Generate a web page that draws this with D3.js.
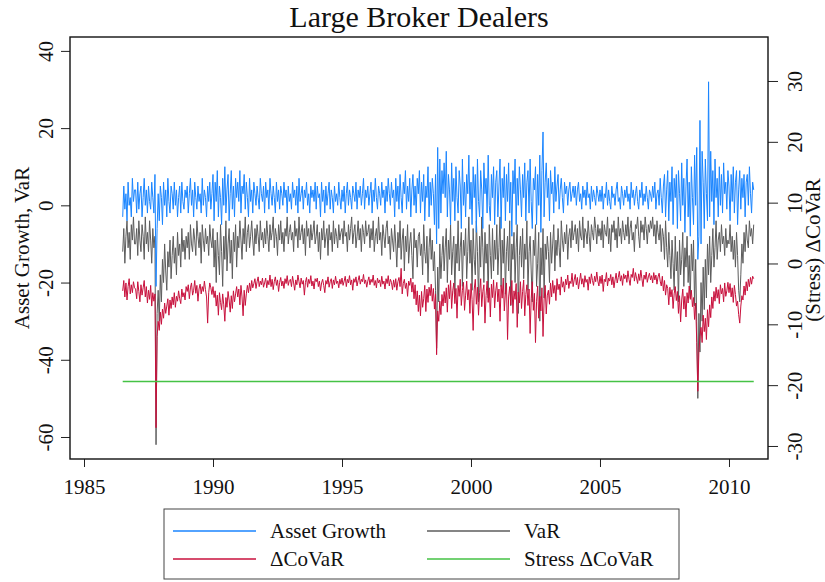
<!DOCTYPE html>
<html>
<head>
<meta charset="utf-8">
<script src="https://cdn.jsdelivr.net/npm/d3@7"></script>
<style>
  body { margin: 0; background: #fff; }
  svg, svg text { font-family: "Liberation Serif", "Times New Roman", serif; }
</style>
</head>
<body>
<svg id="chart" width="825" height="582"></svg>
<script>
// semi-monthly readings, first point mid 1986
const startYear = 1986.5;
const perYear = 24;

const assetGrowth = [
  -3, 5, -1, 3, -4, 6, 0, 2, -3, 7, 1, 4,
  4, -2, 6, -1, 3, 5, -3, 2, 7, 0, 4, -2, 5, 1, -1, 6, 2, -2, 8, -21, -6, 3, -4, 5,
  2, -5, 6, 0, 4, -3, 7, 1, -2, 5, 3, -1, 6, 0, 4, -3, 2, 5, -2, 6, 1, -1, 4, 2,
  5, -2, 3, 7, 0, 4, -3, 6, 2, -1, 5, 1, 3, -2, 7, 0, 4, 2, -3, 5, 1, 6, -1, 3,
  8, -4, 6, 1, 9, -3, 5, 2, -5, 7, 0, 10, -2, 4, 8, -4, 3, 9, -1, 5, -3, 7, 2, 6,
  1, 9, -2, 5, 3, 8, -1, 6, 2, -3, 7, 1, 4, -2, 6, 3, 0, 5, 2, -1, 7, 3, 1, 5,
  -2, 6, 2, 4, -1, 7, 3, 0, 5, 2, -2, 6, 1, 4, -1, 5, 3, 0, 6, 2, 4, -2, 5, 1,
  3, -1, 6, 2, 4, 0, 5, -2, 7, 1, 3, 5, -1, 4, 2, 6, 0, 3, -2, 5, 2, 4, 1, 6,
  -1, 5, 2, 3, -3, 6, 1, 4, -2, 5, 0, 3, 6, -1, 4, 2, -2, 5, 1, 3, 0, 6, 2, -1,
  4, 1, 5, -2, 3, 6, 0, 4, 2, -1, 5, 3, 1, 6, -1, 4, 2, 5, 0, 3, 7, -1, 4, 2,
  5, 0, 3, 6, -2, 4, 1, 7, 2, -1, 5, 3, 0, 6, 2, 4, -2, 5, 1, 7, 3, 0, 6, 2,
  4, -3, 7, 1, 5, -1, 8, 2, -2, 6, 3, 9, -1, 5, 1, 7, -3, 4, 8, 0, 5, -2, 7, 3,
  9, -2, 6, 1, 8, -4, 5, 2, 10, -3, 6, 0, 7, 3, -5, 8, -10, 15, -6, 12, -2, 9, 3, 11,
  2, 14, -3, 8, 4, -5, 11, 1, 7, -4, 10, 2, -2, 9, 5, -6, 12, 0, 6, -3, 8, 3, 13, -1,
  6, -5, 10, 2, 8, -7, 12, 1, -3, 9, 4, -6, 11, 3, 7, -2, 13, 0, -4, 8, 2, 10, -5, 6,
  9, -3, 5, 12, -6, 7, 2, 10, -4, 8, 1, 11, -2, 6, -8, 9, 3, 12, -5, 7, 0, 10, 4, -3,
  8, 2, 11, -4, 6, 9, -2, 12, 1, -6, 7, 4, 10, -5, 8, 0, 13, -7, 9, 19, -3, 6, 11, 2,
  7, -4, 9, 3, 6, -2, 10, 1, 5, 8, -1, 4, 7, 2, -2, 6, 3, 5, 0, 4, 6, 1, 3, 5,
  2, 5, 0, 4, 6, 1, 3, -1, 5, 2, 4, 0, 6, 2, 3, -1, 5, 1, 4, 2, 0, 5, 3, 1,
  4, 1, 5, -1, 3, 2, 6, 0, 4, 1, -1, 5, 2, 3, 0, 4, 6, 1, 2, -1, 5, 3, 0, 4,
  2, 5, 1, 3, -1, 6, 2, 4, 0, 3, 5, 1, -1, 4, 2, 6, 0, 3, 1, 5, 2, -1, 4, 3,
  1, 5, 2, 6, -1, 3, 4, 0, 7, 2, -2, 5, 8, -3, 4, 9, -4, 6, 1, 10, -5, 7, 2, 8,
  -6, 9, 3, -4, 11, 0, 7, -7, 5, 12, -3, 6, -8, 10, 2, -5, 13, 0, 15, -14, -8, 22, -10, 14,
  6, -6, 12, 3, -4, 32, -3, 14, 1, 9, -5, 12, 2, 7, -3, 10, 0, 8, -2, 11, 3, 6, -1, 9,
  5, -4, 8, 1, 10, -2, 6, 9, -5, 4, 9, -1, 7, 2, 8, -3, 6, 8, 0, 10, 3, -2, 6, 4
];

const valueAtRisk = [
  -12, -6, -15, -8, -4, -11, -7, -14, -5, -9, -3, -10,
  -10, -6, -13, -4, -9, -12, -5, -8, -14, -3, -10, -7, -12, -4, -9, -15, -6, -11, -8, -62, -28, -22, -30, -18,
  -25, -14, -20, -10, -17, -22, -12, -16, -9, -19, -13, -8, -15, -11, -18, -7, -13, -10, -16, -6, -12, -9, -14, -8,
  -11, -7, -14, -5, -10, -12, -6, -9, -13, -4, -8, -11, -7, -15, -5, -9, -12, -6, -10, -8, -13, -5, -9, -11,
  -6, -16, -9, -20, -7, -13, -18, -5, -12, -21, -8, -14, -4, -17, -10, -6, -15, -9, -19, -7, -12, -5, -16, -8,
  -11, -4, -9, -14, -6, -10, -3, -12, -7, -5, -11, -8, -4, -9, -13, -6, -10, -5, -8, -12, -4, -9, -7, -11,
  -6, -10, -4, -8, -12, -5, -9, -7, -3, -11, -6, -8, -13, -5, -9, -4, -10, -7, -12, -6, -8, -3, -10, -7,
  -5, -9, -7, -12, -4, -8, -6, -11, -3, -9, -7, -5, -10, -6, -13, -4, -8, -6, -11, -5, -9, -7, -4, -10,
  -8, -5, -12, -7, -14, -6, -9, -4, -11, -8, -6, -13, -5, -9, -7, -12, -4, -10, -6, -8, -11, -5, -9, -7,
  -6, -10, -4, -8, -7, -12, -5, -9, -6, -3, -10, -7, -5, -11, -8, -4, -9, -6, -12, -5, -7, -10, -4, -8,
  -7, -5, -11, -6, -9, -4, -12, -8, -6, -10, -3, -9, -7, -13, -5, -8, -11, -6, -4, -10, -8, -14, -6, -9,
  -12, -5, -10, -16, -7, -11, -4, -14, -9, -6, -17, -8, -12, -5, -15, -10, -7, -13, -19, -6, -11, -9, -16, -8,
  -7, -13, -10, -18, -5, -12, -15, -8, -20, -11, -6, -14, -9, -17, -12, -22, -37, -16, -25, -10, -19, -13, -8, -17,
  -11, -6, -20, -9, -14, -5, -18, -12, -8, -23, -10, -15, -4, -17, -11, -7, -21, -9, -13, -6, -19, -12, -3, -15,
  -9, -22, -6, -14, -18, -4, -12, -25, -8, -16, -3, -11, -20, -7, -15, -10, -24, -5, -13, -19, -6, -17, -9, -14,
  -5, -18, -11, -3, -21, -9, -15, -6, -23, -12, -8, -17, -4, -26, -10, -14, -7, -20, -11, -5, -28, -13, -8, -16,
  -6, -19, -10, -14, -4, -22, -12, -8, -17, -25, -9, -13, -5, -21, -15, -7, -30, -11, -18, -6, -24, -10, -14, -8,
  -12, -20, -7, -15, -10, -5, -17, -9, -13, -6, -11, -16, -4, -9, -12, -7, -10, -5, -14, -8, -6, -11, -4, -9,
  -7, -5, -10, -6, -12, -4, -8, -9, -3, -11, -6, -7, -10, -4, -8, -12, -5, -7, -9, -3, -6, -10, -5, -8,
  -6, -9, -4, -11, -5, -7, -8, -3, -10, -6, -12, -5, -7, -4, -9, -6, -11, -3, -8, -6, -10, -4, -7, -9,
  -5, -8, -3, -10, -6, -4, -9, -7, -12, -5, -6, -3, -8, -11, -4, -7, -5, -9, -3, -6, -10, -5, -7, -4,
  -6, -3, -8, -5, -10, -4, -7, -9, -5, -12, -6, -8, -14, -4, -11, -16, -7, -13, -19, -9, -15, -22, -8, -17,
  -12, -25, -9, -18, -14, -7, -21, -11, -16, -8, -20, -13, -24, -10, -17, -9, -26, -14, -30, -50, -28, -38, -20, -30,
  -16, -27, -14, -24, -10, -18, -8, -20, -13, -6, -16, -11, -4, -14, -9, -7, -12, -5, -10, -8, -13, -6, -11, -9,
  -10, -5, -12, -8, -14, -9, -16, -7, -13, -22, -25, -18, -10, -15, -7, -12, -5, -9, -11, -4, -8, -6, -10, -5
];

const deltaCoVaR = [
  -4.5, -2.8, -5.5, -3.2, -6, -3.8, -2.5, -5, -3.5, -4.8, -3, -4,
  -4.2, -5.8, -3, -4.6, -6.3, -3.5, -5.2, -4, -2.8, -5.5, -3.8, -6.5, -4.4, -5.9, -3.6, -7, -4.8, -6.2, -5, -27, -12, -9.5, -11, -8,
  -10, -7.5, -9, -6.5, -8.2, -7, -5.8, -8.5, -6, -7.4, -5.5, -6.8, -4.8, -7.2, -5.4, -6.2, -4.5, -5.8, -6.6, -4.2, -5.5, -4.8, -6, -3.8,
  -4.6, -3.5, -5.8, -4, -3.2, -5.2, -4.4, -2.8, -4.9, -3.6, -6.2, -4.2, -3.4, -5, -3.8, -4.6, -2.9, -4.3, -5.5, -9.8, -4.8, -3.2, -4, -5.1,
  -3.8, -5.6, -4.5, -7, -5.2, -8.5, -4.8, -6.4, -7.6, -5, -6.8, -9.5, -5.6, -7.2, -4.6, -6, -8, -5.3, -7.4, -4.5, -6.3, -5, -3.8, -5.5,
  -4.2, -6.8, -3.6, -5.5, -8.6, -4.4, -6.9, -5, -3.6, -4.8, -3.2, -4.5, -2.8, -4, -3.3, -2.5, -4.1, -3, -2.2, -3.8, -2.9, -3.5, -2.4, -3.9,
  -3.2, -2.4, -4, -2.8, -3.5, -1.9, -3.8, -2.6, -4.3, -3, -2.2, -3.6, -2.7, -4.6, -3.1, -2.3, -3.7, -2.9, -4.1, -2.5, -3.3, -2, -3.6, -2.8,
  -2.6, -3.8, -2.1, -3.2, -4.4, -2.7, -3.5, -1.9, -3, -4, -2.4, -3.4, -2.8, -5.2, -3.1, -2.3, -3.9, -2.6, -3.3, -2, -3.7, -2.9, -4.2, -2.5,
  -3, -2.4, -3.8, -2.9, -4.5, -3.2, -2.6, -3.6, -4.8, -2.8, -3.4, -2.2, -3.9, -3, -2.5, -4.1, -2.7, -3.5, -2.1, -3.3, -2.9, -4, -2.6, -3.4,
  -2.4, -3.6, -2.9, -2.1, -3.8, -2.6, -3.2, -2, -3.5, -2.7, -4.4, -2.5, -3.1, -2.2, -3.7, -2.8, -2, -3.4, -2.6, -3, -1.8, -3.3, -2.7, -3.9,
  -2.9, -2.2, -3.5, -2.6, -3.1, -1.9, -3.6, -2.8, -4, -2.4, -3.2, -2.7, -3.8, -2.1, -3.4, -2.9, -4.2, -2.5, -3.3, -2, -3.7, -2.6, -3.1, -4.3,
  -2.7, -3.9, -2.5, -4.4, -3, -2.3, -3.8, -0.8, -5, -3.3, -2.6, -4.1, -3.2, -5.4, -2.9, -3.6, -2.4, -4.7, -3.1, -5.8, -3.5, -6.8, -4.5, -7.9,
  -5.2, -8.6, -4.6, -7.2, -5.8, -3.6, -7.9, -4.2, -6.4, -3.9, -5.3, -3.4, -6.2, -4.1, -7.5, -5, -15, -7.8, -9.5, -6.2, -8.4, -5.1, -7, -4.6,
  -6.5, -4, -8, -3.5, -5.8, -2.8, -7.4, -4.5, -3.2, -6.6, -4.1, -9, -3.6, -5.4, -2.6, -6.9, -4.4, -3.1, -7.7, -5.2, -2.9, -6, -4.3, -8.2,
  -3.3, -5.9, -11, -4.2, -2.6, -6.7, -3.9, -8.5, -4.8, -2.5, -7.1, -4.6, -3.5, -9.8, -5.3, -2.9, -6.4, -4, -8.8, -3.4, -5.6, -2.7, -7.3, -4.5,
  -3.1, -6.3, -4.2, -9.5, -3.6, -5.7, -2.4, -7.8, -4.9, -3.2, -12.5, -5.5, -3.8, -6.8, -2.8, -8.2, -4.5, -5.9, -3.3, -10.5, -4.7, -6.5, -3, -7.4,
  -4.6, -2.7, -8.6, -5.1, -3.5, -6.9, -4.2, -11.5, -5.8, -3, -7.7, -4.9, -13, -6.2, -3.7, -9, -5.4, -7.8, -4, -12, -6, -3.6, -8.3, -5.2,
  -4.4, -6.7, -3.2, -5.5, -2.8, -4.9, -3.6, -6.1, -2.5, -4.3, -3.4, -5.2, -2.2, -3.9, -3, -4.7, -2.6, -3.5, -1.9, -4.1, -2.9, -3.3, -1.6, -3.8,
  -2.7, -1.8, -3.5, -2.3, -4.2, -2.9, -1.6, -3.4, -2.5, -3.9, -2, -3.1, -2.6, -4.4, -2.2, -3.3, -1.7, -2.8, -3.6, -2.1, -3, -1.4, -2.9, -3.7,
  -2.1, -3.3, -1.9, -4.6, -2.6, -3, -1.5, -3.7, -2.4, -2.9, -1.8, -3.5, -2.2, -4, -2.7, -1.6, -3.2, -2.3, -1.3, -2.9, -2, -3.6, -1.7, -2.5,
  -1.9, -3.1, -1.2, -2.6, -3.6, -1.8, -2.3, -0.8, -2.9, -1.5, -2.4, -3.3, -1.7, -2.8, -1.1, -2.5, -3.8, -1.9, -2.6, -1.4, -3.1, -2.2, -1.6, -2.7,
  -2, -3.2, -1.5, -2.7, -1.9, -3.4, -2.2, -1.6, -2.9, -3.7, -2.1, -4.5, -2.8, -5.2, -3.5, -4.1, -6.8, -3.9, -5.5, -4.3, -7.4, -5, -3.8, -6.1,
  -4.6, -8.2, -5.3, -9.6, -6, -4.2, -7.5, -5.4, -8.8, -4.8, -6.5, -3.7, -5.9, -4.4, -7.1, -5.6, -9.2, -6.5, -13, -21, -14.5, -12, -10.5, -13,
  -8.5, -11.2, -9, -12.5, -7.6, -10.4, -6.8, -8.9, -5.5, -7.4, -4.6, -6.2, -3.9, -5.7, -4.3, -6.6, -3.5, -5, -4.1, -6.3, -3.2, -5.4, -4.5, -3.1,
  -4.8, -3.3, -5.5, -4, -6.4, -3.6, -5.1, -7, -6.2, -8.4, -9.8, -7, -5.3, -6, -3.7, -5.2, -3, -4.5, -2.6, -3.8, -2.3, -3.4, -2.1, -2.5
];

const stressCoVaR = -19.4;
const stressSpan = [1986.5, 2010.96];

const yearTicks = [1985, 1990, 1995, 2000, 2005, 2010];
const leftTicks = [40, 20, 0, -20, -40, -60];
const rightTicks = [30, 20, 10, 0, -10, -20, -30];

const seriesNames = ["Asset Growth", "VaR", "\u0394CoVaR", "Stress \u0394CoVaR"];
const seriesColors = ["#1a85ff", "#5c5c5c", "#c8103c", "#45c245"];

const plot = { left: 70, right: 768, top: 37, bottom: 459 };
const serif = "Liberation Serif, Times New Roman, serif";

const svg = d3.select("#chart");

const x = d3.scaleLinear().domain([1984.457, 2011.512]).range([plot.left, plot.right]);
const yLeft = d3.scaleLinear().domain([-65.7, 43.6]).range([plot.bottom, plot.top]);
const yRight = d3.scaleLinear().domain([-32.14, 37.23]).range([plot.bottom, plot.top]);

const dateOf = (i) => startYear + i / perYear;

// lines
const lineLeft = d3.line().x((d, i) => x(dateOf(i))).y((d) => yLeft(d));
const lineRight = d3.line().x((d, i) => x(dateOf(i))).y((d) => yRight(d));

const marks = svg.append("g").attr("fill", "none").attr("stroke-width", 1);

marks.append("path").attr("d", lineLeft(valueAtRisk)).attr("stroke", seriesColors[1]);
marks.append("path").attr("d", lineLeft(assetGrowth)).attr("stroke", seriesColors[0]);
marks.append("path").attr("d", lineRight(deltaCoVaR)).attr("stroke", seriesColors[2]);
marks
  .append("path")
  .attr("d", d3.line().x((d) => x(d)).y(() => yRight(stressCoVaR))(stressSpan))
  .attr("stroke", seriesColors[3])
  .attr("stroke-width", 1.3);

// axes, labels rotated like the original
const plain = (d) => String(d);

const leftAxis = svg
  .append("g")
  .attr("transform", `translate(${plot.left},0)`)
  .call(d3.axisLeft(yLeft).tickValues(leftTicks).tickFormat(plain).tickSize(9).tickSizeOuter(0));
leftAxis
  .selectAll("text")
  .attr("x", 0)
  .attr("dy", 0)
  .attr("text-anchor", "middle")
  .attr("transform", "translate(-17,0) rotate(-90)");

const rightAxis = svg
  .append("g")
  .attr("transform", `translate(${plot.right},0)`)
  .call(d3.axisRight(yRight).tickValues(rightTicks).tickFormat(plain).tickSize(10).tickSizeOuter(0));
rightAxis
  .selectAll("text")
  .attr("x", 0)
  .attr("dy", 0)
  .attr("text-anchor", "middle")
  .attr("transform", "translate(34,0) rotate(-90)");

const bottomAxis = svg
  .append("g")
  .attr("transform", `translate(0,${plot.bottom})`)
  .call(d3.axisBottom(x).tickValues(yearTicks).tickFormat(plain).tickSize(8).tickSizeOuter(0));
bottomAxis.selectAll("text").attr("dy", 0).attr("y", 35);

[leftAxis, rightAxis, bottomAxis].forEach((g) => g.attr("font-family", serif).attr("font-size", 21));
svg.selectAll(".domain").remove();
svg.selectAll(".tick text").attr("fill", "#111");
svg.selectAll(".tick line").attr("stroke", "#222");

svg
  .append("rect")
  .attr("x", plot.left)
  .attr("y", plot.top)
  .attr("width", plot.right - plot.left)
  .attr("height", plot.bottom - plot.top)
  .attr("fill", "none")
  .attr("stroke", "#111")
  .attr("stroke-width", 1.4);

// titles
svg
  .append("text")
  .attr("x", 419)
  .attr("y", 27)
  .attr("text-anchor", "middle")
  .attr("font-family", serif)
  .attr("font-size", 30)
  .attr("fill", "#111")
  .text("Large Broker Dealers");

svg
  .append("text")
  .attr("transform", "translate(29,248) rotate(-90)")
  .attr("text-anchor", "middle")
  .attr("font-family", serif)
  .attr("font-size", 21)
  .attr("fill", "#111")
  .text("Asset Growth, VaR");

svg
  .append("text")
  .attr("transform", "translate(820,250) rotate(-90)")
  .attr("text-anchor", "middle")
  .attr("font-family", serif)
  .attr("font-size", 21)
  .attr("fill", "#111")
  .text("(Stress) \u0394CoVaR");

// legend
const legend = svg.append("g").attr("transform", "translate(164,509)");
legend
  .append("rect")
  .attr("width", 515)
  .attr("height", 70)
  .attr("fill", "#fff")
  .attr("stroke", "#444")
  .attr("stroke-width", 1);

const items = legend
  .selectAll("g.item")
  .data(seriesNames)
  .join("g")
  .attr("class", "item")
  .attr("transform", (d, i) => `translate(${(i % 2) * 254},${22 + Math.floor(i / 2) * 28})`);

items
  .append("line")
  .attr("x1", 9)
  .attr("x2", 92)
  .attr("stroke", (d, i) => seriesColors[i])
  .attr("stroke-width", 1.3);

items
  .append("text")
  .attr("x", 106)
  .attr("dy", "0.33em")
  .attr("font-family", serif)
  .attr("font-size", 21)
  .attr("fill", "#111")
  .text((d) => d);
</script>
</body>
</html>
